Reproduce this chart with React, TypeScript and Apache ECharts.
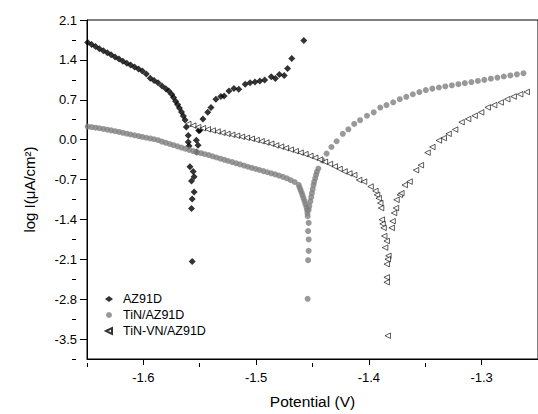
import React, { useEffect, useRef } from "react";
import * as echarts from "echarts";

// ---- Tick values ----
const xMajorTicks = [-1.6, -1.5, -1.4, -1.3];
const xMinorTicks = [-1.65, -1.55, -1.45, -1.35, -1.25];
const yMajorTicks = [-3.5, -2.8, -2.1, -1.4, -0.7, 0, 0.7, 1.4, 2.1];
const yMinorTicks = [-3.85, -3.15, -2.45, -1.75, -1.05, -0.35, 0.35, 1.05, 1.75];

// ---- AZ91D ----
const az91dPotential = [
  -1.6494, -1.6459, -1.6424, -1.639, -1.6355, -1.632, -1.6286, -1.6251, -1.6216, -1.6182,
  -1.6147, -1.6113, -1.6078, -1.6043, -1.6009, -1.5974, -1.5939, -1.5905, -1.587, -1.5835,
  -1.5801, -1.5775, -1.5749, -1.5732, -1.5714, -1.5697, -1.568, -1.5662, -1.5645, -1.563,
  -1.5619, -1.5602,
  -1.5602, -1.553, -1.5515, -1.55, -1.553, -1.5595, -1.5587, -1.5558, -1.555, -1.5573,
  -1.555, -1.5567, -1.5573, -1.5567,
  -1.5509, -1.5472, -1.5429, -1.54, -1.5357, -1.5313, -1.5284, -1.5241, -1.5197, -1.5154,
  -1.5097, -1.5054, -1.501, -1.4967, -1.4924, -1.4866, -1.4829, -1.4794, -1.4751, -1.4721,
  -1.4684, -1.4577,
];
const az91dLogI = [
  1.706, 1.669, 1.633, 1.596, 1.562, 1.525, 1.489, 1.452, 1.416, 1.377,
  1.343, 1.31, 1.277, 1.242, 1.207, 1.153, 1.079, 1.04, 0.997, 0.94,
  0.893, 0.855, 0.797, 0.74, 0.676, 0.615, 0.554, 0.485, 0.415, 0.346,
  0.224, 0.073,
  -0.04, -0.01, -0.1, 0.16, -0.215, -0.11, -0.476, -0.56, -0.65, -0.726,
  -0.92, -1.04, -1.21, -2.14,
  0.16, 0.363, 0.479, 0.566, 0.71, 0.757, 0.768, 0.855, 0.896, 0.884,
  0.971, 1.0, 1.011, 1.028, 1.046, 1.105, 1.075, 1.145, 1.127, 1.249,
  1.423, 1.74,
];

// ---- TiN/AZ91D ----
const tinPotential = [
  -1.6494, -1.6459, -1.6424, -1.639, -1.6355, -1.632, -1.6286, -1.6251, -1.6216, -1.6182,
  -1.6147, -1.6113, -1.6078, -1.6043, -1.6009, -1.5974, -1.5939, -1.5905, -1.587, -1.5835,
  -1.5801, -1.5766, -1.5732, -1.5697, -1.5662, -1.5628, -1.5593, -1.5558, -1.5524, -1.5489,
  -1.5455, -1.542, -1.5385, -1.5351, -1.5316, -1.5281, -1.5247, -1.5212, -1.5177, -1.5143,
  -1.5108, -1.5074, -1.5039, -1.5004, -1.497, -1.4935, -1.49, -1.4866, -1.4831, -1.4797,
  -1.4762, -1.4727, -1.4693, -1.4658,
  -1.4623, -1.4615, -1.4606, -1.4597, -1.4589, -1.458, -1.4571, -1.4563, -1.4554, -1.4548,
  -1.4545, -1.4543, -1.4534, -1.4539, -1.4534, -1.4534, -1.4539, -1.4543,
  -1.4534, -1.4528, -1.4519, -1.4511, -1.4505, -1.4498, -1.4491, -1.4485, -1.4476, -1.4468,
  -1.4461, -1.4448, -1.4411,
  -1.4375, -1.4332, -1.4286, -1.4231, -1.4182, -1.413, -1.4078, -1.4017, -1.3957, -1.3899,
  -1.3844, -1.3784, -1.3726, -1.3668, -1.361, -1.3552, -1.3495, -1.3437, -1.3379, -1.3322,
  -1.3264, -1.3206, -1.3149, -1.3091, -1.3033, -1.2976, -1.2918, -1.286, -1.2803, -1.2745,
  -1.2687, -1.2629,
];
const tinLogI = [
  0.229, 0.221, 0.21, 0.2, 0.188, 0.175, 0.163, 0.149, 0.135, 0.12,
  0.104, 0.09, 0.076, 0.063, 0.047, 0.033, 0.021, 0.007, -0.01, -0.035,
  -0.056, -0.076, -0.097, -0.118, -0.139, -0.16, -0.181, -0.202, -0.222, -0.238,
  -0.255, -0.271, -0.292, -0.313, -0.334, -0.354, -0.375, -0.394, -0.415, -0.434,
  -0.455, -0.476, -0.495, -0.514, -0.533, -0.552, -0.572, -0.591, -0.61, -0.631,
  -0.653, -0.679, -0.712, -0.743,
  -0.792, -0.836, -0.882, -0.928, -0.974, -1.027, -1.079, -1.131, -1.183, -1.235,
  -1.287, -1.344, -1.461, -1.605, -1.751, -1.952, -2.116, -2.793,
  -1.23, -1.166, -1.084, -1.009, -0.94, -0.87, -0.796, -0.74, -0.679, -0.618,
  -0.563, -0.506, -0.367,
  -0.245, -0.129, -0.028, 0.102, 0.181, 0.276, 0.342, 0.419, 0.479, 0.563,
  0.606, 0.655, 0.71, 0.752, 0.797, 0.835, 0.87, 0.896, 0.915, 0.934,
  0.954, 0.973, 0.992, 1.011, 1.03, 1.049, 1.07, 1.089, 1.108, 1.127,
  1.146, 1.165,
];

// ---- TiN-VN/AZ91D ----
const tinVnPotential = [
  -1.5602, -1.5558, -1.5515, -1.5472, -1.5429, -1.5385, -1.5342, -1.5299, -1.5255, -1.5212,
  -1.5169, -1.5126, -1.5082, -1.5039, -1.4996, -1.4952, -1.4909, -1.4866, -1.4823, -1.4779,
  -1.4736, -1.4693, -1.4649, -1.4606, -1.4563, -1.4519, -1.4476, -1.4433, -1.439, -1.4346,
  -1.4303, -1.426, -1.4216, -1.4173, -1.413, -1.4087, -1.4043, -1.3985, -1.3942, -1.3928,
  -1.3913, -1.3899, -1.3892, -1.3885, -1.3879, -1.387, -1.3864, -1.3842, -1.3856, -1.3827,
  -1.3833, -1.3842, -1.3842, -1.3842, -1.3833,
  -1.3798, -1.379, -1.3777, -1.376, -1.3755, -1.3726, -1.3712, -1.3682, -1.3639, -1.3582,
  -1.3539, -1.348, -1.3437, -1.3379, -1.3336, -1.3293, -1.3235, -1.3178, -1.312, -1.3062,
  -1.3004, -1.2946, -1.2889, -1.2831, -1.2773, -1.2716, -1.2658, -1.26,
];
const tinVnLogI = [
  0.276, 0.247, 0.219, 0.201, 0.181, 0.16, 0.142, 0.12, 0.102, 0.085,
  0.068, 0.05, 0.033, 0.016, -0.007, -0.028, -0.05, -0.071, -0.101, -0.123,
  -0.149, -0.175, -0.202, -0.228, -0.254, -0.285, -0.318, -0.349, -0.389, -0.427,
  -0.471, -0.514, -0.558, -0.592, -0.622, -0.709, -0.737, -0.823, -0.9, -0.969,
  -1.027, -1.113, -1.2, -1.404, -1.478, -1.548, -1.692, -1.779, -1.895, -2.039,
  -2.098, -2.185, -2.416, -2.503, -3.441,
  -1.548, -1.431, -1.287, -1.2, -1.056, -0.969, -0.94, -0.796, -0.737, -0.535,
  -0.448, -0.228, -0.129, -0.014, 0.028, 0.102, 0.177, 0.306, 0.363, 0.42,
  0.479, 0.566, 0.606, 0.653, 0.71, 0.757, 0.797, 0.837,
];

const zip = (xs: number[], ys: number[]) => xs.map((x, i) => [x, ys[i]]);

const FONT = "'Liberation Sans', Arial, Helvetica, sans-serif";
const GRID_W = 462;
const GRID_H = 343;

export default function App() {
  const ref = useRef<HTMLDivElement>(null);
  useEffect(() => {
    if (!ref.current) return;
    const chart = echarts.init(ref.current, undefined, { renderer: "svg" });
    const fmt = (v: number) => v.toFixed(1);
    const axisCommon = {
      splitLine: { show: false },
      axisLine: { show: true, onZero: false, lineStyle: { color: "#000", width: 1 } },
    };
    const minorAxis = {
      splitLine: { show: false },
      axisLine: { show: true, onZero: false, lineStyle: { color: "rgba(0,0,0,0)", width: 1 } },
      axisLabel: { show: false },
    };
    chart.setOption({
      animation: false,
      backgroundColor: "#fff",
      grid: {
        left: 87,
        top: 20,
        width: GRID_W,
        height: GRID_H,
        show: true,
        borderColor: "#000",
        borderWidth: 1,
        backgroundColor: "transparent",
      },
      legend: {
        orient: "vertical",
        left: 100,
        top: 286,
        itemWidth: 8,
        itemHeight: 6,
        itemGap: 0,
        textStyle: { fontFamily: FONT, fontSize: 12.5, color: "#000", lineHeight: 16, padding: [0, 0, 0, 5] },
        data: [
          { name: "AZ91D" },
          { name: "TiN/AZ91D" },
          { name: "TiN-VN/AZ91D", icon: "path://M0,5L10,0L10,10Z" },
        ],
      },
      xAxis: [
        {
          type: "value",
          min: -1.65,
          max: -1.25,
          position: "bottom",
          ...axisCommon,
          axisTick: { show: true, inside: false, length: 6, customValues: xMajorTicks, lineStyle: { color: "#000" } },
          axisLabel: { customValues: xMajorTicks, formatter: fmt, margin: 12, fontSize: 13, color: "#000", fontFamily: FONT },
          name: "Potential (V)",
          nameLocation: "middle",
          nameGap: 34,
          nameTextStyle: { fontSize: 15.5, color: "#000", fontFamily: FONT },
        },
        {
          type: "value",
          min: -1.65,
          max: -1.25,
          position: "top",
          offset: -GRID_H,
          ...minorAxis,
          axisTick: { show: true, inside: true, length: 4, customValues: xMinorTicks, lineStyle: { color: "#000" } },
        },
      ],
      yAxis: [
        {
          type: "value",
          min: -3.85,
          max: 2.1,
          position: "left",
          ...axisCommon,
          axisTick: { show: true, inside: false, length: 7, customValues: yMajorTicks, lineStyle: { color: "#000" } },
          axisLabel: { customValues: yMajorTicks, formatter: fmt, margin: 10, fontSize: 13, color: "#000", fontFamily: FONT },
          name: "log I(μA/cm²)",
          nameLocation: "middle",
          nameGap: 50,
          nameTextStyle: { fontSize: 15, color: "#000", fontFamily: FONT },
        },
        {
          type: "value",
          min: -3.85,
          max: 2.1,
          position: "right",
          offset: -GRID_W,
          ...minorAxis,
          axisTick: { show: true, inside: true, length: 4, customValues: yMinorTicks, lineStyle: { color: "#000" } },
        },
      ],
      series: [
        {
          type: "scatter",
          name: "AZ91D",
          symbol: "diamond",
          symbolSize: 7,
          itemStyle: { color: "#000" },
          data: zip(az91dPotential, az91dLogI),
        },
        {
          type: "scatter",
          name: "TiN/AZ91D",
          symbol: "circle",
          symbolSize: 6,
          itemStyle: { color: "#808080" },
          data: zip(tinPotential, tinLogI),
        },
        {
          type: "scatter",
          name: "TiN-VN/AZ91D",
          symbol: "triangle",
          symbolRotate: 90,
          symbolSize: 5.5,
          itemStyle: { color: "#fff", borderColor: "#000", borderWidth: 0.8 },
          data: zip(tinVnPotential, tinVnLogI),
        },
      ],
    });
    return () => chart.dispose();
  }, []);
  return (
    <div
      ref={ref}
      style={{ position: "fixed", left: 0, top: 0, width: 538, height: 414, background: "#fff" }}
    />
  );
}
